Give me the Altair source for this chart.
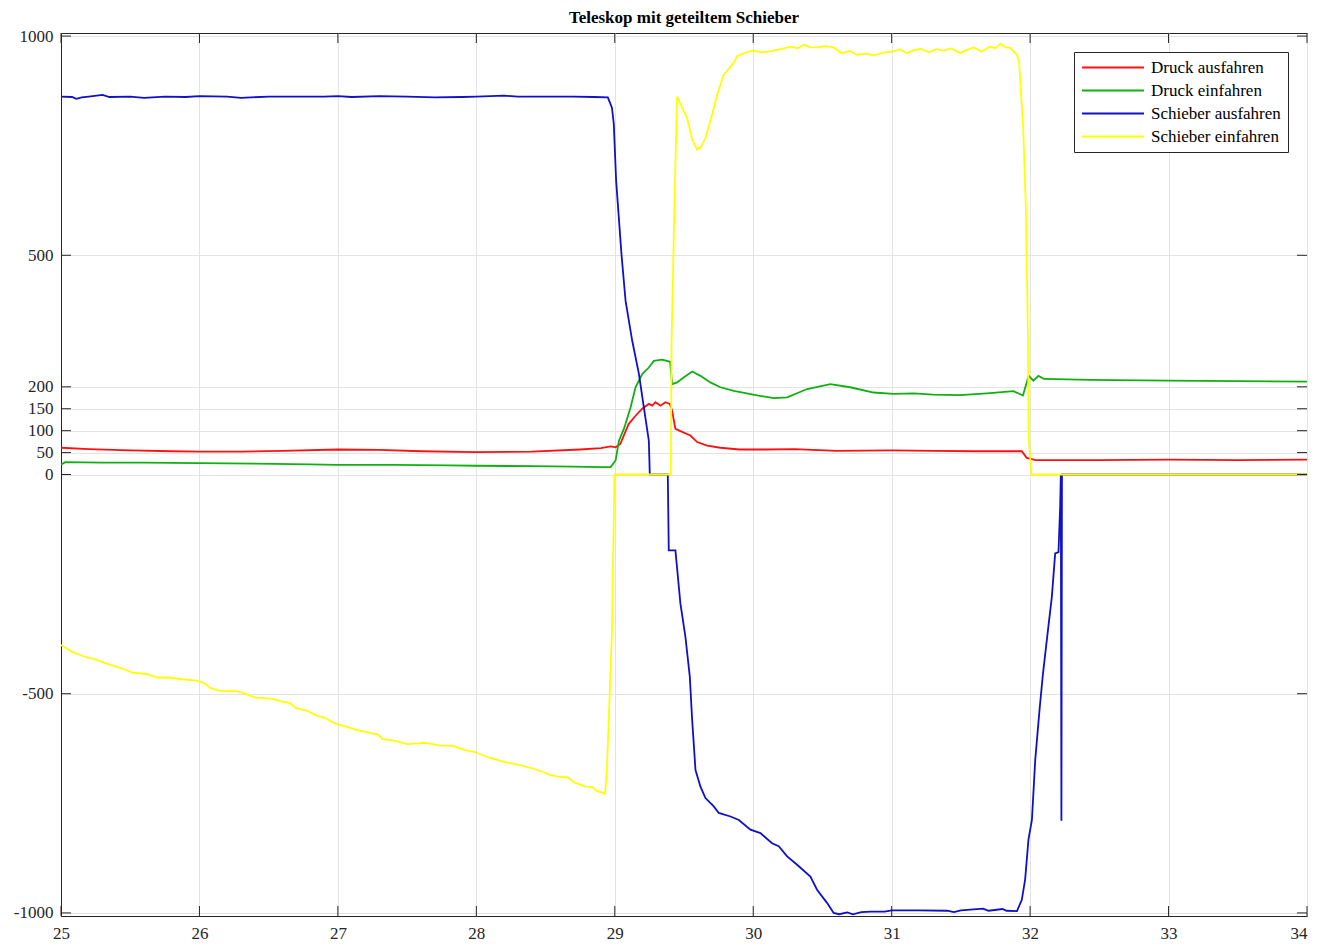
import altair as alt
import pandas as pd

# ---------------- data ----------------
series_names = ["Druck ausfahren", "Druck einfahren", "Schieber ausfahren", "Schieber einfahren"]
series_colors = ["#ff1010", "#10b010", "#1010c8", "#ffff00"]

y_ticks = [-1000, -500, 0, 50, 100, 150, 200, 500, 1000]
x_ticks = [25, 26, 27, 28, 29, 30, 31, 32, 33, 34]

red_x = [25.0, 25.2, 25.5, 25.8, 26.0, 26.3, 26.6, 27.0, 27.3, 27.6, 28.0, 28.4, 28.75, 28.9,
         28.97, 29.006, 29.04, 29.10, 29.15, 29.198, 29.246, 29.27, 29.294, 29.33, 29.366,
         29.397, 29.414, 29.438, 29.474, 29.546, 29.595, 29.667, 29.763, 29.9, 30.1, 30.3,
         30.6, 31.0, 31.3, 31.6, 31.94, 31.975, 32.04, 32.5, 33.0, 33.5, 34.0]
red_y = [61, 58, 55, 53, 52, 52, 54, 57, 56, 53, 51, 52, 57, 60,
         64, 62, 70, 115, 134, 150, 161, 157, 165, 157, 165,
         161, 146, 104, 99, 89, 74, 66, 61, 57, 57, 58,
         54, 55, 54, 53, 53, 38, 33, 33, 34, 33, 34]

green_x = [25.0, 25.03, 25.3, 25.6, 26.0, 26.4, 26.8, 27.0, 27.4, 27.8, 28.0, 28.4, 28.7, 28.9,
           28.97, 29.006, 29.03, 29.066, 29.114, 29.15, 29.198, 29.246, 29.282, 29.343, 29.40,
           29.414, 29.45, 29.5, 29.559, 29.619, 29.69, 29.763, 29.86, 30.0, 30.148, 30.245,
           30.39, 30.557, 30.70, 30.87, 31.014, 31.16, 31.30, 31.495, 31.688, 31.88, 31.948,
           31.99, 32.024, 32.06, 32.1, 32.43, 33.0, 33.5, 34.0]
green_y = [22, 28, 27, 27, 26, 25, 23, 22, 22, 21, 20, 19, 18, 17,
           17, 32, 77, 104, 153, 199, 229, 244, 259, 262, 257,
           206, 210, 222, 235, 225, 210, 199, 191, 182, 174, 176,
           195, 206, 199, 187, 184, 185, 182, 181, 185, 190, 180,
           225, 214, 225, 218, 216, 214, 213, 212]

blue_x = [25.0, 25.08, 25.11, 25.15, 25.2, 25.3, 25.35, 25.5, 25.6, 25.75, 25.9, 26.0, 26.2,
          26.3, 26.5, 26.7, 26.9, 27.0, 27.1, 27.3, 27.5, 27.7, 27.9, 28.0, 28.2, 28.3, 28.5,
          28.7, 28.85, 28.95, 28.98, 28.993, 29.01, 29.049, 29.078, 29.126, 29.174, 29.21,
          29.246, 29.253, 29.383, 29.39, 29.438, 29.474, 29.51, 29.542, 29.559, 29.583,
          29.619, 29.655, 29.715, 29.751, 29.836, 29.896, 29.98, 30.052, 30.136, 30.184,
          30.245, 30.317, 30.413, 30.461, 30.533, 30.581, 30.62, 30.68, 30.72, 30.78, 30.85,
          30.95, 31.0, 31.2, 31.4, 31.45, 31.5, 31.66, 31.7, 31.8, 31.83, 31.905, 31.94,
          31.964, 31.988, 32.013, 32.037, 32.068, 32.092, 32.126, 32.157, 32.181, 32.205,
          32.217, 32.222, 32.226, 32.23, 34.0]
blue_y = [862, 861, 857, 860, 862, 866, 861, 862, 859, 862, 861, 863, 862,
          859, 862, 862, 862, 863, 861, 863, 862, 860, 861, 862, 864, 862, 862,
          862, 861, 860, 836, 799, 669, 500, 396, 305, 230, 153,
          77, 0, 0, -173, -173, -294, -370, -461, -560, -674,
          -712, -738, -757, -772, -780, -788, -810, -818, -841, -848,
          -871, -890, -917, -947, -977, -1000, -1003, -999, -1003, -998, -997,
          -997, -994, -994, -995, -998, -994, -990, -995, -991, -995, -996, -970,
          -924, -833, -788, -651, -537, -457, -363, -279, -180, -177,
          -74, 0, -790, 0, 0]

yellow_x = [25.0, 25.077, 25.155, 25.258, 25.335, 25.438, 25.515, 25.619, 25.696, 25.773,
            25.876, 25.979, 26.031, 26.083, 26.16, 26.263, 26.314, 26.405, 26.52, 26.598,
            26.65, 26.70, 26.778, 26.856, 26.907, 26.959, 27.01, 27.062, 27.139, 27.217,
            27.294, 27.32, 27.423, 27.50, 27.63, 27.732, 27.835, 27.913, 27.99, 28.093,
            28.196, 28.299, 28.402, 28.48, 28.531, 28.608, 28.66, 28.712, 28.789, 28.84,
            28.866, 28.93, 28.943, 28.98, 28.998, 29.405, 29.41, 29.43, 29.45, 29.49,
            29.522, 29.559, 29.595, 29.607, 29.619, 29.655, 29.703, 29.739, 29.787, 29.86,
            29.884, 29.94, 30.0, 30.06, 30.12, 30.2, 30.27, 30.32, 30.365, 30.41, 30.461,
            30.52, 30.58, 30.64, 30.7, 30.75, 30.81, 30.87, 30.94, 31.014, 31.06, 31.11,
            31.16, 31.21, 31.27, 31.32, 31.375, 31.43, 31.495, 31.54, 31.59, 31.65, 31.71,
            31.75, 31.784, 31.82, 31.856, 31.905, 31.92, 31.95, 31.97, 31.985, 31.99,
            32.01, 34.0]
yellow_y = [-389, -404, -414, -423, -432, -442, -452, -455, -463, -463,
            -467, -470, -475, -488, -494, -494, -498, -509, -511, -518,
            -521, -533, -539, -551, -555, -565, -571, -575, -583, -588,
            -594, -603, -608, -615, -612, -618, -619, -628, -633, -646,
            -655, -662, -670, -678, -685, -690, -691, -703, -712, -713,
            -721, -728, -674, -355, 0, 0, 300, 600, 862, 835,
            813, 764, 741, 745, 745, 768, 821, 866, 912, 939,
            954, 962, 967, 963, 965, 970, 976, 972, 980, 975, 974,
            977, 974, 961, 966, 957, 960, 956, 962, 965, 970, 961,
            968, 971, 963, 970, 967, 972, 961, 968, 974, 965, 976,
            972, 982, 975, 973, 957, 942, 790, 600, 300, 80,
            0, 0]

# ---------------- build table ----------------
frames = []
for name, xs, ys in zip(series_names,
                        [red_x, green_x, blue_x, yellow_x],
                        [red_y, green_y, blue_y, yellow_y]):
    frames.append(pd.DataFrame({"t": xs, "v": ys, "series": name}))
df = pd.concat(frames, ignore_index=True)
df["i"] = df.index

W, H = 1246, 883
FONT = "Liberation Serif"
AX = "#262626"
GRID = "#e3e3e3"
X_LAST = x_ticks[-1]

x_scale = alt.Scale(domain=[x_ticks[0], X_LAST], nice=False, zero=False)
y_scale = alt.Scale(domain=[-1007, 1007], nice=False, zero=False)
color_scale = alt.Scale(domain=series_names, range=series_colors)

x_axis = alt.Axis(values=x_ticks, grid=True, gridColor=GRID, ticks=False, labelFlush=False,
                  labelAlign={"condition": {"test": f"datum.value >= {X_LAST}", "value": "right"},
                              "value": "center"},
                  labelFont=FONT, labelFontSize=17, labelColor=AX, labelPadding=9,
                  domainColor=AX, title=None, labelExpr="'' + datum.value")
y_axis = alt.Axis(values=y_ticks, grid=True, gridColor=GRID, ticks=False, labelFlush=False,
                  labelFont=FONT, labelFontSize=17, labelColor=AX, labelPadding=8,
                  domainColor=AX, title=None, labelExpr="'' + datum.value")

base = alt.Chart(df)


def series_layer(idx):
    return base.transform_filter(alt.datum.series == series_names[idx]).mark_line(
        strokeWidth=1.8, clip=True
    ).encode(
        x=alt.X("t:Q", scale=x_scale, axis=x_axis),
        y=alt.Y("v:Q", scale=y_scale, axis=y_axis),
        order="i:Q",
        color=alt.Color("series:N", scale=color_scale, sort=series_names,
                        legend=alt.Legend(title=None)),
    )


layers = [series_layer(k) for k in range(4)]

# inner tick marks (MATLAB style, on all four sides)
yt = pd.DataFrame({"v": y_ticks})
xt = pd.DataFrame({"t": x_ticks})
TL = 10
tick_y_left = alt.Chart(yt).mark_rule(color=AX, strokeWidth=1).encode(
    y=alt.Y("v:Q", scale=y_scale, axis=y_axis), x=alt.value(0), x2=alt.value(TL))
tick_y_right = alt.Chart(yt).mark_rule(color=AX, strokeWidth=1).encode(
    y=alt.Y("v:Q", scale=y_scale, axis=y_axis), x=alt.value(W - TL), x2=alt.value(W))
tick_x_bottom = alt.Chart(xt).mark_rule(color=AX, strokeWidth=1).encode(
    x=alt.X("t:Q", scale=x_scale, axis=x_axis), y=alt.value(H - TL), y2=alt.value(H))
tick_x_top = alt.Chart(xt).mark_rule(color=AX, strokeWidth=1).encode(
    x=alt.X("t:Q", scale=x_scale, axis=x_axis), y=alt.value(0), y2=alt.value(TL))

chart = alt.layer(
    *layers, tick_y_left, tick_y_right, tick_x_bottom, tick_x_top
).properties(
    width=W, height=H,
    title=alt.TitleParams("Teleskop mit geteiltem Schieber", font=FONT, fontSize=17,
                          fontWeight="bold", color="#000000", anchor="middle", offset=0),
    autosize=alt.AutoSizeParams(type="none"),
    padding={"left": 53, "top": 25, "right": 2, "bottom": 28},
).configure_view(
    stroke=AX, strokeWidth=1
).configure_legend(
    orient="none", legendX=1013, legendY=19,
    fillColor="white", strokeColor=AX, strokeWidth=1, padding=7,
    symbolType="stroke", symbolSize=3844, symbolStrokeWidth=1.8,
    labelFont=FONT, labelFontSize=17, labelColor="#000000", labelLimit=400,
    rowPadding=5, labelOffset=6, cornerRadius=0, clipHeight=17,
).configure_axis(
    domainWidth=1, gridWidth=1
)

chart.save("out.html", embed_options={"renderer": "svg", "actions": False})
